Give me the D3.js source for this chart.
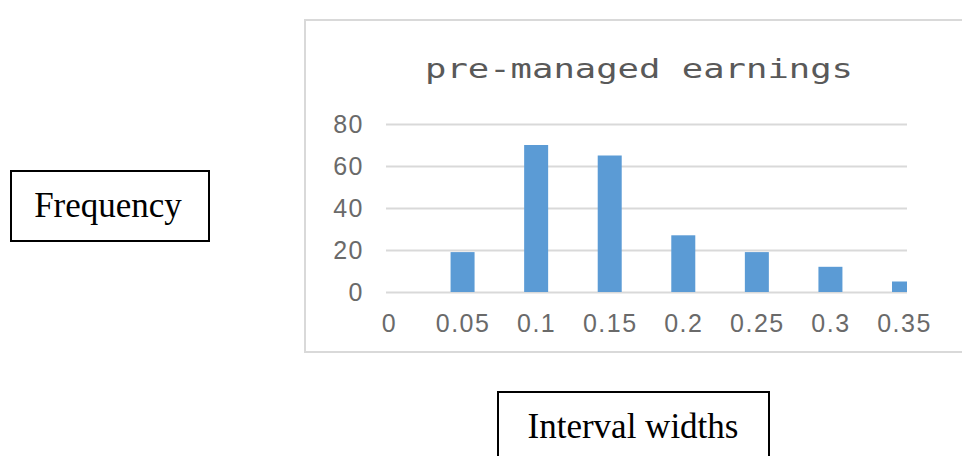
<!DOCTYPE html>
<html lang="en">
<head>
    <meta charset="UTF-8">
    <title>pre-managed earnings</title>
    <script src="https://cdn.jsdelivr.net/npm/d3@7"></script>
    <style>
        body { margin: 0; background: #fff; }
        .axis text {
            font-family: "Liberation Sans", Arial, sans-serif;
            font-size: 25px;
            fill: #6a6a6a;
            letter-spacing: 1.5px;
        }
        .box text {
            font-family: "Liberation Serif", "Times New Roman", serif;
            font-size: 35px;
            fill: #000;
        }
    </style>
</head>
<body>
<script>
    // data
    var categories = ["0", "0.05", "0.1", "0.15", "0.2", "0.25", "0.3", "0.35"]
    var frequencies = [0, 19, 70, 65, 27, 19, 12, 5]
    var yTicks = [0, 20, 40, 60, 80]

    var width = 962,
        height = 456

    var svg = d3.select("body")
        .append("svg")
        .attr("width", width)
        .attr("height", height)

    // chart frame
    svg.append("rect")
        .attr("x", 305).attr("y", 20)
        .attr("width", 700).attr("height", 332)
        .attr("fill", "#fff")
        .attr("stroke", "#d9d9d9")
        .attr("stroke-width", 2)

    // title
    svg.append("text")
        .attr("x", 425).attr("y", 78)
        .attr("textLength", 428)
        .attr("lengthAdjust", "spacingAndGlyphs")
        .style("font-family", "'DejaVu Sans Mono', monospace")
        .style("font-size", "26px")
        .style("fill", "#595959")
        .text("pre-managed earnings")

    var plotLeft = 386, plotRight = 907

    var x = d3.scalePoint()
        .domain(categories)
        .range([389, 904])

    var y = d3.scaleLinear()
        .domain([0, 80])
        .range([292, 124])

    // gridlines + y labels
    var yAxis = d3.axisLeft(y)
        .tickValues(yTicks)
        .tickSize(-(plotRight - plotLeft))
        .tickPadding(22)

    var gy = svg.append("g")
        .attr("class", "axis")
        .attr("transform", "translate(" + plotLeft + ",0)")
        .call(yAxis)
    gy.select(".domain").remove()
    gy.selectAll(".tick line")
        .attr("stroke", "#d9d9d9")
        .attr("stroke-width", 2)

    // clip bars to the plot area
    svg.append("clipPath")
        .attr("id", "plot-clip")
        .append("rect")
        .attr("x", plotLeft).attr("y", 0)
        .attr("width", plotRight - plotLeft).attr("height", 300)

    var barWidth = 24

    svg.append("g")
        .attr("clip-path", "url(#plot-clip)")
        .selectAll("rect")
        .data(frequencies)
        .enter()
        .append("rect")
        .attr("x", function(d, i) { return x(categories[i]) - barWidth / 2 })
        .attr("y", function(d) { return y(d) })
        .attr("width", barWidth)
        .attr("height", function(d) { return y(0) - y(d) })
        .attr("fill", "#5b9bd5")

    // x labels
    var xAxis = d3.axisBottom(x)
        .tickSize(0)
        .tickPadding(22)

    var gx = svg.append("g")
        .attr("class", "axis")
        .attr("transform", "translate(0," + y(0) + ")")
        .call(xAxis)
    gx.select(".domain").remove()

    // outside label boxes
    var box1 = svg.append("g").attr("class", "box")
    box1.append("rect")
        .attr("x", 11).attr("y", 171)
        .attr("width", 198).attr("height", 70)
        .attr("fill", "none")
        .attr("stroke", "#000")
        .attr("stroke-width", 2)
    box1.append("text")
        .attr("x", 108).attr("y", 217)
        .attr("text-anchor", "middle")
        .text("Frequency")

    var box2 = svg.append("g").attr("class", "box")
    box2.append("rect")
        .attr("x", 498).attr("y", 392)
        .attr("width", 271).attr("height", 90)
        .attr("fill", "none")
        .attr("stroke", "#000")
        .attr("stroke-width", 2)
    box2.append("text")
        .attr("x", 633).attr("y", 438)
        .attr("text-anchor", "middle")
        .text("Interval widths")
</script>
</body>
</html>
